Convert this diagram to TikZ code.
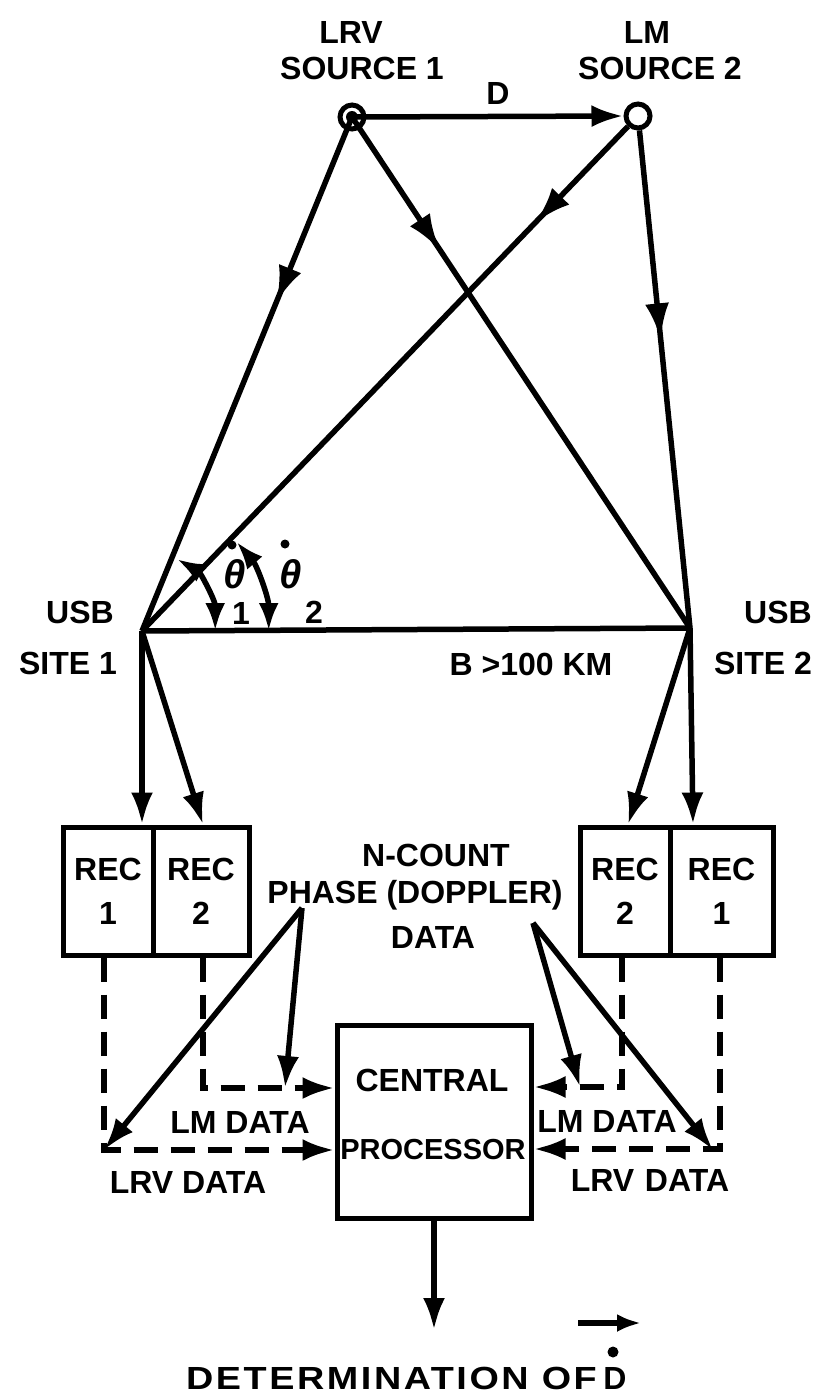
\documentclass[tikz,border=0pt]{standalone}
\usepackage{fontspec}
\setmainfont{Liberation Sans}
\usetikzlibrary{arrows.meta,decorations.markings,calc}
\tikzset{
  ln/.style={line width=5.5pt},
  tip/.style={-{Latex[length=32pt,width=22pt]}},
  lbl/.style={font=\fontsize{32}{44}\selectfont\bfseries, inner sep=0pt, align=center},
  midarrow/.style={postaction={decorate},decoration={markings, mark=at position #1 with {\arrow{Latex[length=36pt,width=24pt]}}}},
  dsh/.style={line width=5.5pt, dash pattern=on 24pt off 13pt},
  recbox/.style={draw, line width=5pt, minimum height=128pt, inner sep=0pt, lbl},
  src/.style={circle, draw, line width=5pt, minimum size=24pt, inner sep=0pt},
  thlbl/.style={inner sep=0pt, font=\fontsize{40}{42}\selectfont\bfseries\itshape},
  arctip/.style={{Latex[length=28pt,width=20pt]}-{Latex[length=28pt,width=20pt]}},
}
\begin{document}
\begin{tikzpicture}[x=1pt,y=-1pt]
\useasboundingbox (0,0) rectangle (832,1397);
% sources
\node[src] (src1) at (352,117) {};
\fill (src1.center) circle (6pt);
\node[src] (src2) at (638,116) {};
\node[lbl] (lrv) at (351,32) {LRV};
\node[lbl] (so1) at (362,68) {SOURCE 1};
\node[lbl] (lm) at (647,32) {LM};
\node[lbl] (so2) at (660,68) {SOURCE 2};
\node[lbl] (dl) at (498,93) {D};
\draw[ln,tip] (src1.center) -- (src2.west);
% sites
\coordinate (s1) at (142,631);
\coordinate (s2) at (690,628);
\draw[ln,midarrow=0.36] (src1.center) -- (s1);
\draw[ln,midarrow=0.26] (src1.center) -- (s2);
\draw[ln,midarrow=0.19] (src2) -- (s1);
\draw[ln,midarrow=0.42] (src2) -- (s2);
\draw[ln] (s1) -- (s2);
\node[lbl] (usb1) at (80,612) {USB};
\node[lbl] (site1) at (68,663) {SITE 1};
\node[lbl] (usb2) at (778,612) {USB};
\node[lbl] (site2) at (763,663) {SITE 2};
\node[lbl] (bl) at (531,664) {B >100 KM};
% angles
\draw[ln,arctip] (s1) ++(64.2:80pt) arc[start angle=64.2,end angle=0,x radius=68pt,y radius=80pt];
\draw[ln,arctip] (s1) ++(43.4:130pt) arc[start angle=43.4,end angle=0,x radius=118pt,y radius=130pt];
\node[thlbl] (th1) at (235,574) {θ};
\fill (232,545) circle (4.5pt);
\node[lbl] (i1) at (241,613) {1};
\node[thlbl] (th2) at (291,574) {θ};
\fill (285,544) circle (4.5pt);
\node[lbl] (i2) at (314,612) {2};
% receivers
\node[recbox, minimum width=90pt] (rec1L) at (108,891) {REC\\1};
\node[recbox, minimum width=96pt] (rec2L) at (201,891) {REC\\2};
\node[recbox, minimum width=90pt] (rec2R) at (625,891) {REC\\2};
\node[recbox, minimum width=103pt] (rec1R) at (721.5,891) {REC\\1};
\draw[ln,tip] (s1) -- (s1 |- rec1L.north);
\draw[ln,tip] (s1) -- ($(rec2L.north)+(2,0)$);
\draw[ln,tip] (s2) -- ($(s2 |- rec1R.north)+(3,0)$);
\draw[ln,tip] (s2) -- ($(rec2R.north)+(3,0)$);
% central processor
\node[draw, line width=5pt, minimum width=194pt, minimum height=193pt, inner sep=0pt] (cp) at (434,1121.5) {};
\node[lbl] (cen) at (432,1080) {CENTRAL};
\node[lbl, font=\fontsize{29}{30}\selectfont\bfseries] (proc) at (433,1150) {PROCESSOR};
% dashed data paths
\coordinate (cL1) at (104,1150);
\coordinate (cL2) at (203,1088);
\coordinate (cR2) at (622,1087);
\coordinate (cR1) at (720,1149);
\draw[dsh,tip] (rec1L.south -| cL1) |- (cp.west |- cL1);
\draw[dsh,tip] (rec2L.south -| cL2) |- (cp.west |- cL2);
\draw[dsh,tip] (rec2R.south -| cR2) |- (cp.east |- cR2);
\draw[dsh,tip] (rec1R.south -| cR1) |- (cp.east |- cR1);
% phase data text and arrows
\node[lbl] (nc) at (436,855) {N-COUNT};
\node[lbl] (ph) at (415,895) {PHASE (DOPPLER)};
\node[lbl] (da) at (433,937) {DATA};
\coordinate (pL) at (302,908);
\coordinate (pR) at (533,923);
\coordinate (lmL) at (285,1088);
\coordinate (lmR) at (580,1087);
\coordinate (lrvR) at (713,1150);
\draw[ln,tip] (pL) -- (cL1);
\draw[ln,tip] (pL) -- (lmL);
\draw[ln,tip] (pR) -- (lmR);
\draw[ln,tip] (pR) -- (lrvR);
\node[lbl] (lmdL) at (240,1122) {LM DATA};
\node[lbl] (lrvdL) at (188,1182) {LRV DATA};
\node[lbl] (lmdR) at (607,1121) {LM DATA};
\node[lbl] (lrvdR) at (650,1180) {LRV\,\,DATA};
% output
\coordinate (det) at (434,1330);
\draw[ln,tip] (cp.south) -- (det);
\node[lbl, anchor=east, font=\fontsize{32}{34}\selectfont\bfseries\addfontfeatures{LetterSpace=8,FakeStretch=1.18}] (dt) at (597,1378) {DETERMINATION OF};
\node[lbl] (dd) at (615,1378) {D};
\fill (613,1352) circle (5.5pt);
\draw[ln,-{Latex[length=24pt,width=18pt]}] (578,1323) -- (641,1323);
\end{tikzpicture}
\end{document}
